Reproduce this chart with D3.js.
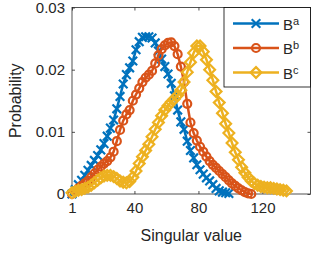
<!DOCTYPE html>
<html>
<head>
<meta charset="utf-8">
<script src="https://cdn.jsdelivr.net/npm/d3@7"></script>
<style>
  body { margin: 0; background: #fff; }
  svg { display: block; font-family: "Liberation Sans", Arial, sans-serif; }
</style>
</head>
<body>
<svg id="chart" width="312" height="253"></svg>
<script>
// singular value index (every 2nd one) and probability per series
const xBlue = d3.range(1, 100, 2);
const yBlue = [0.0000, 0.0007, 0.0015, 0.0022, 0.0030, 0.0038, 0.0046, 0.0054, 0.0062, 0.0071,
  0.0081, 0.0093, 0.0106, 0.0119, 0.0137, 0.0157, 0.0177, 0.0192, 0.0203, 0.0214,
  0.0232, 0.0245, 0.0252, 0.0253, 0.0253, 0.0251, 0.0243, 0.0230, 0.0217, 0.0205,
  0.0193, 0.0178, 0.0158, 0.0135, 0.0116, 0.0104, 0.0085, 0.0070, 0.0058, 0.0047,
  0.0039, 0.0032, 0.0026, 0.0021, 0.0015, 0.0009, 0.0005, 0.0003, 0.0002, 0.0001];

const xRed = d3.range(1, 114, 2);
const yRed = [0.0000, 0.0004, 0.0009, 0.0013, 0.0017, 0.0021, 0.0027, 0.0033, 0.0039, 0.0044,
  0.0049, 0.0053, 0.0059, 0.0068, 0.0085, 0.0103, 0.0118, 0.0128, 0.0135, 0.0150,
  0.0160, 0.0170, 0.0180, 0.0187, 0.0192, 0.0198, 0.0210, 0.0223, 0.0233, 0.0239,
  0.0243, 0.0244, 0.0238, 0.0225, 0.0205, 0.0180, 0.0145, 0.0115, 0.0098, 0.0086,
  0.0076, 0.0068, 0.0060, 0.0053, 0.0047, 0.0042, 0.0037, 0.0032, 0.0027, 0.0022,
  0.0017, 0.0013, 0.0009, 0.0006, 0.0003, 0.0001, 0.0000];

const xYellow = d3.range(1, 136, 2);
const yYellow = [0.0002, 0.0004, 0.0006, 0.0007, 0.0009, 0.0011, 0.0014, 0.0018, 0.0022, 0.0026,
  0.0029, 0.0030, 0.0030, 0.0028, 0.0025, 0.0021, 0.0019, 0.0018, 0.0020, 0.0027,
  0.0037, 0.0049, 0.0060, 0.0070, 0.0080, 0.0092, 0.0104, 0.0115, 0.0126, 0.0135,
  0.0142, 0.0148, 0.0153, 0.0159, 0.0167, 0.0180, 0.0196, 0.0212, 0.0227, 0.0238,
  0.0238, 0.0229, 0.0216, 0.0200, 0.0183, 0.0165, 0.0147, 0.0130, 0.0113, 0.0098,
  0.0082, 0.0067, 0.0055, 0.0043, 0.0034, 0.0027, 0.0021, 0.0017, 0.0014, 0.0012,
  0.0011, 0.0010, 0.0010, 0.0009, 0.0008, 0.0007, 0.0006, 0.0005];

const xTicks = [1, 40, 80, 120];
const yTicks = [0, 0.01, 0.02, 0.03];
const yTickLabels = ["0", "0.01", "0.02", "0.03"];
const legendSup = ["a", "b", "c"];

const colors = ["#0072BD", "#D95319", "#EDB120"];
const markers = ["x", "o", "d"];

const svg = d3.select("#chart");
const mLeft = 72, mRight = 310.5, mTop = 7.5, mBottom = 194;

const x = d3.scaleLinear().domain([1, 150]).range([mLeft, mRight]);
const y = d3.scaleLinear().domain([0, 0.03]).range([mBottom, mTop]);

const axisCol = "#262626";

// frame (box on)
svg.append("rect")
  .attr("x", mLeft).attr("y", mTop)
  .attr("width", mRight - mLeft).attr("height", mBottom - mTop)
  .attr("fill", "none").attr("stroke", axisCol).attr("stroke-width", 0.8);

// axes, ticks inward
const tl = 3;
svg.append("g").attr("transform", `translate(0,${mBottom})`)
  .call(d3.axisBottom(x).tickValues(xTicks).tickSizeInner(-tl).tickSizeOuter(0).tickPadding(8));
svg.append("g").attr("transform", `translate(${mLeft},0)`)
  .call(d3.axisLeft(y).tickValues(yTicks).tickFormat((d, i) => yTickLabels[i])
    .tickSizeInner(-tl).tickSizeOuter(0).tickPadding(7));
svg.append("g").attr("transform", `translate(0,${mTop})`)
  .call(d3.axisTop(x).tickValues(xTicks).tickSize(-tl).tickFormat(""));
svg.append("g").attr("transform", `translate(${mRight},0)`)
  .call(d3.axisRight(y).tickValues(yTicks).tickSize(-tl).tickFormat(""));

svg.selectAll(".domain").remove();
svg.selectAll(".tick line").attr("stroke", axisCol).attr("stroke-width", 0.8);
svg.selectAll(".tick text").attr("fill", axisCol)
  .style("font-size", "15px").style("font-family", "'Liberation Sans', Arial, sans-serif");

// labels
svg.append("text")
  .attr("x", (mLeft + mRight) / 2).attr("y", 241)
  .attr("text-anchor", "middle").attr("fill", axisCol)
  .style("font-size", "16px").text("Singular value");
svg.append("text")
  .attr("transform", `translate(21,${(mTop + mBottom) / 2}) rotate(-90)`)
  .attr("text-anchor", "middle").attr("fill", axisCol)
  .style("font-size", "16px").text("Probability");

function drawMarker(g, type, color, cx, cy) {
  if (type === "x") {
    const s = 4.3;
    g.append("path")
      .attr("d", `M${cx - s},${cy - s}L${cx + s},${cy + s}M${cx - s},${cy + s}L${cx + s},${cy - s}`)
      .attr("stroke", color).attr("stroke-width", 2.2).attr("fill", "none");
  } else if (type === "o") {
    g.append("circle").attr("cx", cx).attr("cy", cy).attr("r", 4)
      .attr("stroke", color).attr("stroke-width", 2.2).attr("fill", "none");
  } else {
    const d = 5.4;
    g.append("path")
      .attr("d", `M${cx},${cy - d}L${cx + d},${cy}L${cx},${cy + d}L${cx - d},${cy}Z`)
      .attr("stroke", color).attr("stroke-width", 2.2).attr("fill", "none");
  }
}

const series = [
  { xs: xBlue, ys: yBlue },
  { xs: xRed, ys: yRed },
  { xs: xYellow, ys: yYellow }
];

const line = d3.line().x(d => x(d[0])).y(d => y(d[1]));

series.forEach((s, i) => {
  const pts = s.xs.map((v, k) => [v, s.ys[k]]);
  const g = svg.append("g");
  g.append("path").datum(pts).attr("d", line)
    .attr("fill", "none").attr("stroke", colors[i]).attr("stroke-width", 2.5);
  pts.forEach(p => drawMarker(g, markers[i], colors[i], x(p[0]), y(p[1])));
});

// legend
const lg = svg.append("g");
lg.append("rect").attr("x", 224).attr("y", 7.5).attr("width", 86.5).attr("height", 79.5)
  .attr("fill", "#fff").attr("stroke", "#000").attr("stroke-width", 0.8);
legendSup.forEach((sup, i) => {
  const ly = 23.5 + i * 24.5;
  lg.append("line").attr("x1", 233).attr("x2", 279).attr("y1", ly).attr("y2", ly)
    .attr("stroke", colors[i]).attr("stroke-width", 2.5);
  drawMarker(lg, markers[i], colors[i], 256, ly);
  const t = lg.append("text").attr("x", 283).attr("y", ly + 6)
    .attr("fill", axisCol).style("font-size", "15px");
  t.append("tspan").text("B");
  t.append("tspan").attr("dy", -5).style("font-size", "11px").text(sup);
});
</script>
</body>
</html>
